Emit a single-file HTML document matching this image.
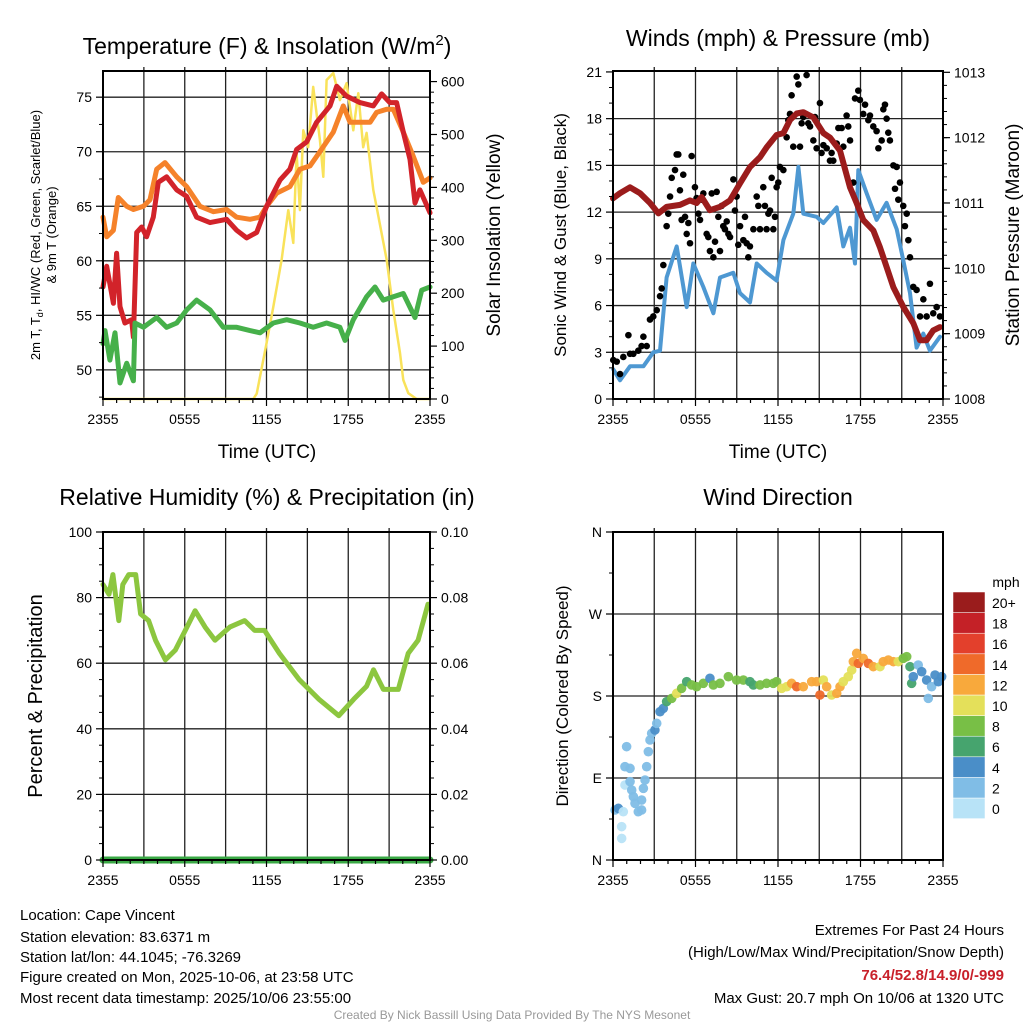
<!DOCTYPE html>
<html><head><meta charset="utf-8"><style>
body{margin:0;background:#fff;}
svg text{font-family:"Liberation Sans",Arial,sans-serif;fill:#000;}
</style></head><body>
<svg id="s" width="1024" height="1024" viewBox="0 0 1024 1024" xmlns="http://www.w3.org/2000/svg">
<rect width="1024" height="1024" fill="#fff"/>
<text x="267" y="54" font-size="23" text-anchor="middle">Temperature (F) &amp; Insolation (W/m<tspan dy="-9" font-size="15">2</tspan><tspan dy="9">)</tspan></text>
<text x="778" y="46" font-size="23" text-anchor="middle">Winds (mph) &amp; Pressure (mb)</text>
<text x="267" y="505" font-size="23" text-anchor="middle">Relative Humidity (%) &amp; Precipitation (in)</text>
<text x="778" y="505" font-size="23" text-anchor="middle">Wind Direction</text>
<text transform="translate(40,235) rotate(-90)" font-size="13" text-anchor="middle">2m T, T<tspan font-size="9" dy="3">d</tspan><tspan dy="-3">, HI/WC (Red, Green, Scarlet/Blue)</tspan></text>
<text transform="translate(56,235) rotate(-90)" font-size="13" text-anchor="middle">&amp; 9m T (Orange)</text>
<text transform="translate(500,235) rotate(-90)" font-size="19" text-anchor="middle">Solar Insolation (Yellow)</text>
<text transform="translate(566,235) rotate(-90)" font-size="17" text-anchor="middle">Sonic Wind &amp; Gust (Blue, Black)</text>
<text transform="translate(1019,235) rotate(-90)" font-size="19" text-anchor="middle">Station Pressure (Maroon)</text>
<text transform="translate(42,696) rotate(-90)" font-size="20" text-anchor="middle">Percent &amp; Precipitation</text>
<text transform="translate(568,696) rotate(-90)" font-size="17" text-anchor="middle">Direction (Colored By Speed)</text>
<text x="267" y="458" font-size="19" text-anchor="middle">Time (UTC)</text>
<text x="778" y="458" font-size="19" text-anchor="middle">Time (UTC)</text>
<g font-size="15">
<text x="20" y="920">Location: Cape Vincent</text>
<text x="20" y="942">Station elevation: 83.6371 m</text>
<text x="20" y="962">Station lat/lon: 44.1045; -76.3269</text>
<text x="20" y="982">Figure created on Mon, 2025-10-06, at 23:58 UTC</text>
<text x="20" y="1003">Most recent data timestamp: 2025/10/06 23:55:00</text>
<text x="1004" y="935" text-anchor="end">Extremes For Past 24 Hours</text>
<text x="1004" y="957" text-anchor="end">(High/Low/Max Wind/Precipitation/Snow Depth)</text>
<text x="1004" y="980" text-anchor="end" font-weight="bold" style="fill:#c8202a">76.4/52.8/14.9/0/-999</text>
<text x="1004" y="1003" text-anchor="end">Max Gust: 20.7 mph On 10/06 at 1320 UTC</text>
</g>
<text x="512" y="1019" font-size="12" text-anchor="middle" style="fill:#999">Created By Nick Bassill Using Data Provided By The NYS Mesonet</text>
<g id="plots"></g>
</svg>
<script>
// ---- data (hours since 2355) ----
const xTickLabels = ["2355","0555","1155","1755","2355"];
const tempT = [0,0.27,0.76,1.0,1.25,1.61,2.1,2.23,2.47,2.84,3.2,3.69,4.06,4.67,5.41,6.14,6.87,7.85,9.07,9.81,10.54,11.28,12.01,12.99,13.72,14.21,14.95,15.68,16.66,17.15,17.88,18.86,19.84,20.45,21.06,21.55,22.04,22.53,22.9,23.26,24];
const tempV = [57.6,59.5,56.1,60.7,55.8,54.3,54.6,53,62.6,63.1,62.2,64,67.2,67.7,66.5,65.9,64,63.5,63.8,62.8,62.1,62.6,65,67.4,68.4,70.2,70.9,72.7,74.2,76,75.1,74.5,74.2,75.3,74.5,74.5,71.8,69.3,65.3,66.5,64.4];
const t9T = [0,0.27,0.76,1.12,1.74,2.23,2.97,3.45,3.94,4.55,5.41,6.14,7.12,8.1,9.07,9.81,10.79,11.52,12.01,12.75,13.72,14.45,15.19,15.92,16.9,17.64,18.13,18.86,19.6,20.08,20.82,21.31,22.04,22.77,23.51,24];
const t9V = [64,62.2,62.8,65.8,65,64.7,65,65.6,68.4,69,67.7,66.8,65,64.5,64.7,64,63.8,64,65,66.2,66.8,68.4,68.7,70,71.8,74.2,72.7,72.7,72.7,73.6,73.9,73.9,71.8,69.6,67.2,67.6];
const tdT = [0,0.15,0.51,0.88,1.25,1.74,2.23,2.35,2.97,3.94,4.67,5.41,6.14,6.87,7.85,8.83,9.81,10.79,11.52,12.5,13.48,14.45,15.43,16.41,17.39,17.76,18.37,19.35,19.96,20.57,21.31,22.04,22.9,23.39,24];
const tdV = [52.4,53.6,50.9,53.4,48.8,50.6,49,54.3,53.9,54.8,53.9,54.3,55.5,56.4,55.5,53.9,53.9,53.6,53.4,54.3,54.6,54.3,53.9,54.3,53.9,52.7,54.6,56.7,57.6,56.4,56.7,57,54.8,57.3,57.6];
const solT = [0,11.03,11.28,12.01,12.5,13.11,13.6,13.97,14.21,14.45,14.7,15.06,15.43,15.92,16.17,16.41,16.9,17.39,17.88,18.37,18.74,19.1,19.35,19.84,20.08,20.82,21.31,21.8,22.04,22.41,23.02,24];
const solV = [0,0,10,106,174,263,357,295,465,357,508,476,590,490,420,603,616,565,597,508,578,476,503,395,363,263,168,87,36,11,0,0];
const windT = [0.02,0.51,1.24,2.21,2.93,3.42,3.9,4.63,5.36,5.84,6.57,7.3,7.78,8.75,9.24,9.96,10.45,11.17,11.9,12.39,13.11,13.48,13.84,14.81,15.3,16.27,16.75,17.24,17.6,17.84,18.45,19.17,19.9,20.63,21.11,21.6,22.08,22.57,23.05,23.78];
const windV = [1.9,1.2,2.1,2.1,3,3.1,7.8,9.8,5.9,8.7,7.2,5.5,7.8,8.1,6.8,6.2,8.7,8.1,7.6,10.2,11.9,14.9,11.9,11.7,11.3,12.3,9.8,11,8.7,14.7,13.2,11.5,12.6,10.9,8.9,6.8,3.3,4.2,3.1,4];
const gustT = [0.02,0.27,0.51,0.75,1.12,1.24,1.48,1.84,2.08,2.21,2.45,2.69,2.93,3.18,3.42,3.54,3.66,3.9,4.02,4.15,4.27,4.51,4.63,4.75,4.87,4.99,5.11,5.24,5.36,5.48,5.6,5.72,5.96,6.08,6.21,6.33,6.45,6.57,6.81,6.93,7.05,7.18,7.3,7.42,7.54,7.66,7.78,7.9,8.02,8.14,8.27,8.39,8.51,8.75,8.87,8.99,9.11,9.24,9.48,9.6,9.72,9.84,9.96,10.21,10.45,10.57,10.69,10.93,11.05,11.17,11.3,11.42,11.54,11.66,11.78,11.9,12.02,12.14,12.39,12.63,12.75,12.87,12.99,13.11,13.36,13.48,13.6,13.72,13.84,14.08,14.2,14.33,14.57,14.69,14.81,15.05,15.17,15.3,15.54,15.78,15.9,16.02,16.27,16.39,16.63,16.75,16.99,17.11,17.24,17.48,17.6,17.84,17.96,18.2,18.33,18.57,18.69,18.93,19.17,19.3,19.54,19.66,19.78,19.9,20.02,20.14,20.39,20.51,20.63,20.75,20.87,21.11,21.23,21.36,21.48,21.6,21.84,22.08,22.33,22.57,22.81,23.05,23.29,23.54,23.78];
const gustV = [2.5,2.4,1.6,2.7,4.1,2.9,2.9,3.1,3.4,4.0,3.4,5.1,5.3,5.7,6.6,7.1,8.6,11.1,11.9,13.0,14.2,14.7,15.7,15.7,13.4,11.5,14.4,11.7,10.6,11.3,10.0,15.6,13.6,12.9,11.9,11.5,12.8,13.2,10.6,10.4,9.5,13.2,9.1,10.1,13.3,11.7,9.5,12.4,11.1,10.9,11.4,10.6,10.4,14.1,12.1,13.0,9.9,11.1,10.2,11.7,10.0,9.1,9.8,10.9,13.0,12.4,10.9,13.6,12.4,10.9,11.9,12.1,14.2,10.9,11.7,13.6,13.9,14.9,14.7,16.8,17.9,18.3,19.5,16.2,20.7,20.2,16.2,17.7,18.1,20.8,17.7,17.5,16.6,18.1,16.1,19.0,15.8,16.3,16.1,15.3,15.8,15.3,16.4,17.4,17.4,16.2,18.2,17.5,16.6,13.9,19.3,19.8,19.2,18.3,18.9,17.9,18.2,17.5,17.2,16.1,16.6,18.6,18.9,18.0,17.1,16.6,15.0,13.5,14.9,12.8,13.9,12.4,11.1,11.9,10.2,9.1,7.2,7.0,5.3,6.4,5.3,7.4,5.5,5.9,5.3];
const presT = [0,0.51,1.24,1.96,2.69,3.3,3.9,4.87,5.6,6.08,6.45,7.05,7.78,8.51,9.24,9.96,10.69,11.17,11.9,12.39,12.87,13.36,13.84,14.57,15.3,15.78,16.51,17.24,17.72,18.2,18.93,19.42,19.9,20.39,21.11,21.84,22.33,22.81,23.29,23.78];
const presV = [1011.07,1011.15,1011.24,1011.15,1011.0,1010.84,1010.94,1010.97,1011.04,1011.0,1011.09,1010.89,1010.94,1011.04,1011.3,1011.55,1011.7,1011.85,1012.04,1012.07,1012.27,1012.37,1012.39,1012.31,1012.07,1012.0,1011.8,1011.24,1011.0,1010.74,1010.58,1010.32,1010.02,1009.71,1009.41,1009.16,1008.9,1008.9,1009.05,1009.1];
const rhT = [0,0.44,0.73,1.16,1.45,1.89,2.4,2.76,3.35,3.85,4.58,5.31,6.04,6.76,7.49,8.22,9.31,10.4,11.13,11.85,12.95,14.4,15.85,17.31,18.4,19.35,19.85,20.58,21.67,22.4,23.13,23.85];
const rhV = [84,81,87,73,84,87,87,75,73,67,61,64,70,76,71,67,71,73,70,70,63,55,49,44,49,53,58,52,52,63,67,78];
const precT = [0,24];
const precV = [0,0];
const dirT = [0.15,0.39,0.75,0.63,0.63,0.87,0.99,0.87,1.24,1.24,1.36,1.48,1.6,1.84,2.08,2.08,2.21,2.33,2.45,2.57,2.69,2.81,3.05,3.18,3.42,3.66,3.9,4.27,4.63,4.99,5.36,5.72,6.08,6.57,7.05,7.3,7.78,8.39,8.99,9.48,9.96,10.21,10.69,11.17,11.66,11.9,12.27,12.63,12.99,13.36,13.84,14.45,14.81,15.05,15.3,15.54,15.9,16.27,16.51,16.75,17.11,17.36,17.48,17.72,17.84,18.2,18.57,18.93,19.42,19.66,20.02,20.39,20.75,21.11,21.36,21.6,21.72,21.84,22.2,22.45,22.81,22.93,23.17,23.42,23.66,23.9];
const dirV = [54.9,56.7,53,36.6,23.7,82.3,124.4,102.4,100.6,86,76.8,69.5,62.2,53,54.9,65.8,78.6,87.8,102.4,118.9,131.7,139,142.7,150,162.8,166.4,173.8,177.4,182.9,188.4,195.7,192.1,190.2,193.9,199.4,192.1,193.9,201.2,197.5,197.5,195.7,192.1,192.1,193.9,193.9,195.7,188.4,190.2,193.9,190.2,190.2,195.7,195.7,181.1,197.5,190.2,181.1,182.9,190.2,195.7,201.2,208.5,217.7,226.8,215.8,221.3,215.8,212.2,212.2,217.7,219.5,217.7,217.7,221.3,223.2,212.2,193.9,201.2,214,206.7,197.5,177.4,190.2,203,195.7,201.2];
const dirSpd = [2,4,0,0,0,0,2,2,2,2,2,2,2,2,2,2,2,2,2,2,2,2,4,2,4,4,6,8,10,8,6,8,8,8,4,8,8,8,8,8,6,6,8,8,8,8,10,10,12,14,12,12,12,14,10,12,10,12,12,10,10,10,12,12,14,12,14,12,10,12,12,12,10,8,8,6,6,4,2,4,4,2,2,4,4,4];
const cbLabels = ["0","2","4","6","8","10","12","14","16","18","20+"];
const cbColors = ["#b8e3f7","#80bde6","#4a8ec8","#46a46e","#78bf46","#e4e05a","#f8a93c","#ef6a2a","#e3402c","#c42127","#9a1c1c"];

const NS="http://www.w3.org/2000/svg";
const root=document.getElementById('plots');
function el(tag,attrs,parent){const e=document.createElementNS(NS,tag);for(const k in attrs)e.setAttribute(k,attrs[k]);(parent||root).appendChild(e);return e;}
function txt(x,y,s,anchor,size,parent){const t=el('text',{x:x,y:y,'font-size':size||14,'text-anchor':anchor||'middle'},parent);t.textContent=s;return t;}

function panel(name,L,R,T,B,yl,yr){
  const g=el('g',{});
  
  
  const sx=h=>L+(h/24)*(R-L);
  const sy=v=>B-(v-yl[0])/(yl[1]-yl[0])*(B-T);
  const sy2=yr?(v=>B-(v-yr[0])/(yr[1]-yr[0])*(B-T)):null;
  return {g,sx,sy,sy2,L,R,T,B};
}
function frame(p,hGrid,vGrid){
  const gg=el('g',{},p.g);
  
  
  for(let h=3;h<24;h+=3){el('line',{x1:p.sx(h),x2:p.sx(h),y1:p.T-4,y2:p.B,stroke:'#222','stroke-width':1.3},gg);}
  hGrid.forEach(y=>el('line',{x1:p.L,x2:p.R,y1:y,y2:y,stroke:'#222','stroke-width':1.3},gg));
}
function border(p){
  const b=el('rect',{x:p.L,y:p.T,width:p.R-p.L,height:p.B-p.T,fill:'none',stroke:'#000','stroke-width':2},p.g);
  
  
  const xa=el('g',{},p.g);
  
  
  for(let h=0;h<=24;h+=1){const x=p.sx(h);const maj=h%6===0;el('line',{x1:x,x2:x,y1:p.B,y2:p.B+(maj?7:4),stroke:'#000','stroke-width':1.2},xa);}
  xTickLabels.forEach((s,i)=>{txt(p.sx(i*6),p.B+25,s,'middle',14,xa);});
}
function leftAxis(p,vals,labels,minors,sy,side){
  const a=el('g',{},p.g);
  
  
  const x0=side==='r'?p.R:p.L, d=side==='r'?1:-1;
  vals.forEach((v,i)=>{const y=sy(v);el('line',{x1:x0,x2:x0+d*7,y1:y,y2:y,stroke:'#000','stroke-width':1.2},a);txt(x0+d*11,y+5,labels[i],side==='r'?'start':'end',14,a);});
  minors.forEach(v=>{const y=sy(v);el('line',{x1:x0,x2:x0+d*4,y1:y,y2:y,stroke:'#000','stroke-width':1},a);});
}
function line(p,T,V,sy,color,w,name){
  const d=T.map((t,i)=>(i?'L':'M')+p.sx(t).toFixed(1)+','+sy(V[i]).toFixed(1)).join('');
  const e=el('path',{d:d,fill:'none',stroke:color,'stroke-width':w,'stroke-linejoin':'round','stroke-linecap':'round'},p.g);
  
  
}

// Panel 1
const p1=panel('temperature-panel',103,430,71,399,[47.33,77.4],[0,620]);
const tv=[50,55,60,65,70,75];
frame(p1,tv.map(p1.sy),true);
line(p1,solT,solV,p1.sy2,'#f9e25a',2.5,'solar-line');
line(p1,t9T,t9V,p1.sy,'#f5822a',5,'temp-9m-line');
line(p1,tempT,tempV,p1.sy,'#d2232a',5,'temp-2m-line');
line(p1,tdT,tdV,p1.sy,'#46b04a',5,'dewpoint-line');
border(p1);
leftAxis(p1,tv,tv.map(String),[47.5,52.5,57.5,62.5,67.5,72.5,77.5].filter(v=>v<77.4),p1.sy,'l');
const sv=[0,100,200,300,400,500,600];const sm=[];for(let v=20;v<620;v+=20)if(v%100)sm.push(v);
leftAxis(p1,sv,sv.map(String),sm,p1.sy2,'r');

// Panel 2
const p2=panel('wind-panel',613,943,71,399,[0,21.06],[1008,1013.02]);
const wv=[0,3,6,9,12,15,18,21];
frame(p2,wv.slice(1,7).map(p2.sy),true);
line(p2,windT,windV,p2.sy,'#4e98d2',4,'wind-speed-line');
gustT.forEach((t,i)=>{const c=el('circle',{cx:p2.sx(t),cy:p2.sy(gustV[i]),r:3.3,fill:'#000'},p2.g);

});
line(p2,presT,presV,p2.sy2,'#9b1c1c',6,'pressure-line');
border(p2);
const wm=[];for(let v=1;v<21;v++)if(v%3)wm.push(v);
leftAxis(p2,wv,wv.map(String),wm,p2.sy,'l');
const pv=[1008,1009,1010,1011,1012,1013];const pm=[];for(let v=1008.2;v<1013;v+=0.2)pm.push(v);
leftAxis(p2,pv,pv.map(String),pm,p2.sy2,'r');

// Panel 3
const p3=panel('humidity-panel',103,430,532,860,[0,100],[0,0.1]);
const rv=[0,20,40,60,80,100];
frame(p3,rv.slice(1).map(p3.sy),true);
line(p3,rhT,rhV,p3.sy,'#8cc63f',5,'rh-line');
line(p3,precT,precV,p3.sy2,'#3aa845',7,'precip-line');
border(p3);
const rm=[];for(let v=5;v<100;v+=5)if(v%20)rm.push(v);
leftAxis(p3,rv,rv.map(String),rm,p3.sy,'l');
const qv=[0,0.02,0.04,0.06,0.08,0.1];const qm=[];for(let v=0.005;v<0.1;v+=0.005)if(Math.round(v*1000)%20)qm.push(v);
leftAxis(p3,qv,qv.map(v=>v.toFixed(2)),qm,p3.sy2,'r');

// Panel 4
const p4=panel('direction-panel',613,943,532,860,[0,360],null);
const dv=[0,90,180,270,360];
frame(p4,dv.slice(1,4).map(p4.sy),true);
dirT.forEach((t,i)=>{const c=el('circle',{cx:p4.sx(t),cy:p4.sy(dirV[i]),r:4.8,fill:cbColors[Math.min(10,Math.floor(dirSpd[i]/2))],'fill-opacity':0.95},p4.g);

});
border(p4);
leftAxis(p4,dv,["N","E","S","W","N"],[45,135,225,315],p4.sy,'l');
const cb=el('g',{});


txt(1006,587,'mph','middle',14,cb);
cbColors.forEach((c,i)=>{const y=798-i*20.6;const r=el('rect',{x:953,y:y,width:32,height:20.6,fill:c,stroke:'#fff','stroke-width':0.5},cb);


txt(992,y+16,cbLabels[i],'start',14,cb);});
</script>
</body></html>
